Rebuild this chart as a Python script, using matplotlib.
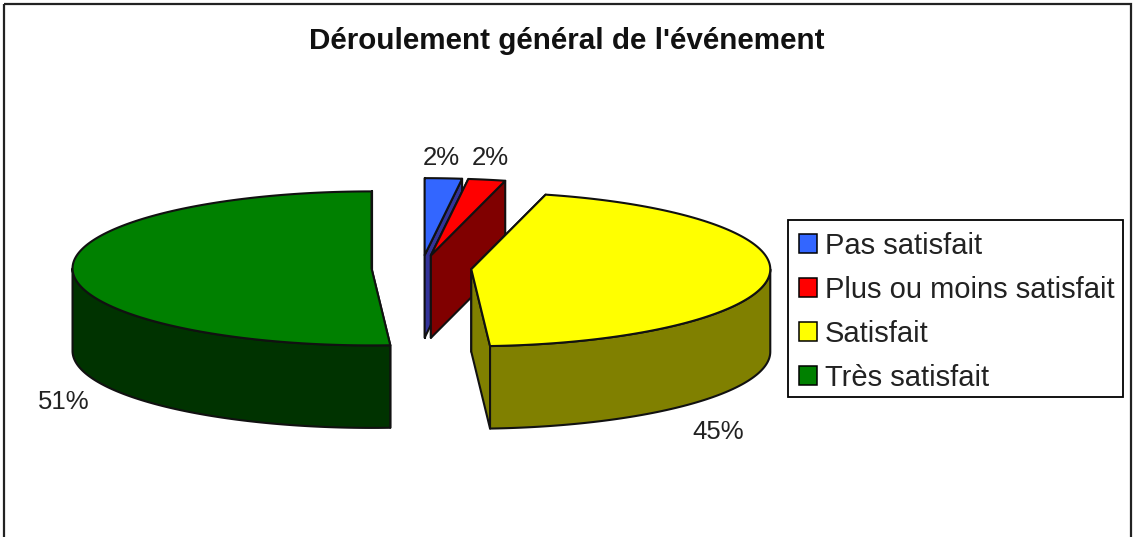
import numpy as np
import matplotlib
matplotlib.use("Agg")
import matplotlib.pyplot as plt
from matplotlib.patches import Polygon, Patch, Rectangle

plt.rcParams['font.family'] = ['Liberation Sans', 'DejaVu Sans']

title = "Déroulement général de l'événement"
categories = ["Pas satisfait", "Plus ou moins satisfait", "Satisfait", "Très satisfait"]
values = [2, 2, 45, 51]
value_labels = ["2%", "2%", "45%", "51%"]
top_colors = ["#3366FF", "#FF0000", "#FFFF00", "#008000"]
side_colors = ["#333399", "#800000", "#808000", "#003300"]

W, H = 1133, 537
fig = plt.figure(figsize=(W / 100, H / 100), dpi=100, facecolor="white")
ax = fig.add_axes([0, 0, 1, 1])
ax.set_xlim(0, W)
ax.set_ylim(H, 0)
ax.axis("off")

CX, CY, RX, RY, DEPTH, EXPLODE = 421.5, 268.0, 299.0, 77.0, 82.5, 50.0
EDGE = dict(edgecolor="#111111", linewidth=1.5, joinstyle="round")


def arc(cx, cy, a0, a1, n=160):
    t = np.linspace(a0, a1, n)
    return np.column_stack([cx + RX * np.sin(t), cy - RY * np.cos(t)])


fractions = np.array(values, dtype=float) / np.sum(values)
bounds = np.concatenate([[0.0], np.cumsum(fractions)]) * 2 * np.pi

for i in range(len(values)):
    a0, a1 = bounds[i], bounds[i + 1]
    mid = (a0 + a1) / 2
    cx = CX + EXPLODE * np.sin(mid)
    cy = CY - EXPLODE * (RY / RX) * np.cos(mid)
    apex = np.array([cx, cy])
    down = np.array([0, DEPTH])
    # cut faces
    for a in (a0, a1):
        p = arc(cx, cy, a, a, 1)[0]
        ax.add_patch(Polygon([apex, p, p + down, apex + down], facecolor=side_colors[i], **EDGE))
    # outer wall: front half of the ellipse only
    lo, hi = max(a0, np.pi / 2), min(a1, 3 * np.pi / 2)
    if hi > lo:
        rim = arc(cx, cy, lo, hi)
        ax.add_patch(Polygon(np.vstack([rim, (rim + down)[::-1]]), facecolor=side_colors[i], **EDGE))
    # top face
    ax.add_patch(Polygon(np.vstack([apex, arc(cx, cy, a0, a1)]), facecolor=top_colors[i], **EDGE))

ax.add_patch(Rectangle((4, 3.5), W - 6, H + 10, fill=False, edgecolor="#222222", linewidth=1.6))

ax.text(567, 41, title, ha="center", va="center", fontsize=21.3, fontweight="bold", color="#111111")

label_pos = [(441, 158), (490, 158), (718, 432), (64, 402)]
for (x, y), s in zip(label_pos, value_labels):
    ax.text(x, y, s, ha="center", va="center", fontsize=18.5, color="#222222")

# legend frame drawn separately so the rows can sit exactly inside it
ax.add_patch(Rectangle((788, 220), 335, 177, facecolor="white", edgecolor="black", linewidth=1.3, zorder=4))
handles = [Patch(facecolor=c, edgecolor="black", linewidth=1.1) for c in top_colors]
leg = ax.legend(handles, categories, loc="upper left",
                bbox_to_anchor=(799 / W, 1 - 232 / H), bbox_transform=ax.transAxes,
                fontsize=20.95, frameon=False, borderaxespad=0, borderpad=0,
                handlelength=0.62, handleheight=0.62, handletextpad=0.28, labelspacing=0.55)
leg.set_zorder(5)
for t in leg.get_texts():
    t.set_color("#222222")

fig.savefig("out.png", dpi=100, facecolor="white")
